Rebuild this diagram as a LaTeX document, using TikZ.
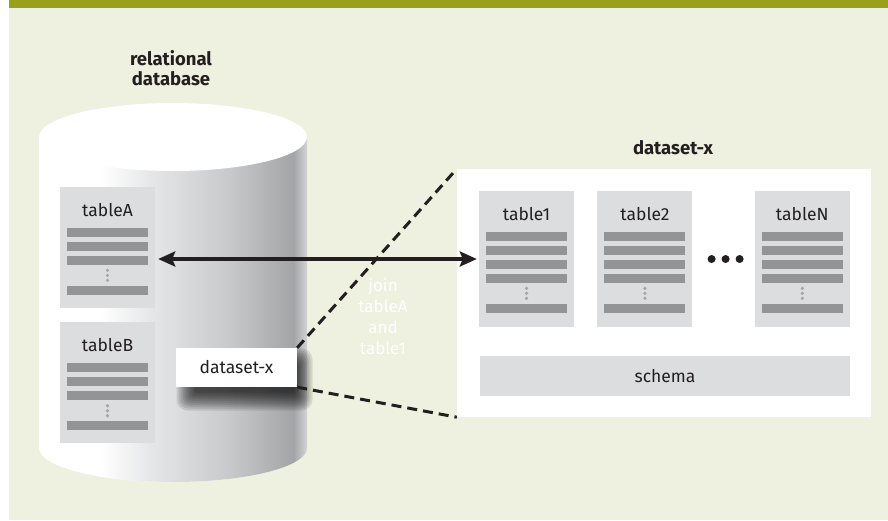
\documentclass[tikz,border=0pt]{standalone}
\usepackage{fontspec}
\setmainfont{Fira Sans}
\usetikzlibrary{
  arrows.meta,
  positioning,
  calc
}
\definecolor{barOlive}{RGB}{154,160,26}
\definecolor{paleBeige}{RGB}{238,240,224}
\definecolor{tblGray}{RGB}{220,221,223}
\definecolor{rowGray}{RGB}{147,148,150}
\definecolor{dotGray}{RGB}{165,166,168}
\definecolor{inkDark}{RGB}{35,31,32}
\definecolor{cylA}{RGB}{230,231,232}
\definecolor{cylB}{RGB}{200,201,203}
\definecolor{cylC}{RGB}{163,164,166}
\definecolor{cylD}{RGB}{214,215,217}
% title, rows, dots and last row of a table node
\newcommand{\tblBody}[3]{
  \node[tblTitle] (#1Name) at ([yshift=-23pt]#1.north) {#2};
  \foreach \r [evaluate=\r as \dy using 41+14*(\r-1)] in {1,...,#3}
    \fill[rowGray] ([xshift=-40.5pt, yshift=-\dy pt]#1.north) rectangle ++(81,9);
  \pgfmathsetmacro{\base}{41+14*#3}
  \foreach \d in {0.5,5.5,10.5}
    \fill[dotGray] ([yshift=-\base pt-\d pt]#1.north) circle[radius=1.8pt];
  \fill[rowGray] ([xshift=-40.5pt, yshift=-\base pt-16pt]#1.north) rectangle ++(81,9);
}
\tikzset{
  tbl/.style={fill=tblGray, minimum width=95pt, inner sep=0pt},
  tblTitle/.style={text=inkDark, font=\fontsize{17.5}{20}\selectfont},
  heading/.style={text=inkDark, align=center, font=\bfseries\fontsize{18.5}{20}\selectfont},
  cut/.style={draw=inkDark, line width=3pt, dash pattern=on 10pt off 6pt}
}

\begin{document}
\begin{tikzpicture}[
    x=1pt, y=-1pt,
    node distance=14pt
  ]
  \useasboundingbox (0,0) rectangle (888,520);
  \fill[white] (0,0) rectangle (888,520);
  \fill[paleBeige] (9,0) rectangle (888,520);
  \fill[barOlive] (9,0) rectangle (888,8);

  % relational database
  \begin{scope}
    \fill[white] (39,137) -- (39,448)
      arc[start angle=180, end angle=360, x radius=134pt, y radius=34pt]
      -- (307,137) -- cycle;
    \clip (39,137) -- (39,448)
      arc[start angle=180, end angle=360, x radius=134pt, y radius=34pt]
      -- (307,137) -- cycle;
    \shade[left color=white, right color=cylA] (100,100) rectangle (150,500);
    \shade[left color=cylA, right color=cylB] (149.5,100) rectangle (230,500);
    \shade[left color=cylB, right color=cylC] (229.5,100) rectangle (294,500);
    \shade[left color=cylC, right color=cylD] (293.5,100) rectangle (308,500);
  \end{scope}
  \fill[white] (173,137) ellipse[x radius=134pt, y radius=34pt];
  \node[heading] (dbLabel) at (171,68) {relational\\database};

  \node[tbl, minimum height=121pt] (tableA) at (107.5,247.5) {};
  \node[tbl, minimum height=121pt, below=of tableA] (tableB) {};
  \tblBody{tableA}{tableA}{3}
  \tblBody{tableB}{tableB}{3}

  % soft shadow under the dataset-x copy
  \foreach \k in {0,...,9}
    \fill[black, opacity=0.1, rounded corners=\k pt+2pt]
      ([xshift=-\k*2pt, yshift=\k*2pt]194.5,366.5)
      rectangle ([xshift=\k*2pt, yshift=-\k*2pt]294.5,392.5);
  \node[fill=white, minimum width=121pt, minimum height=39pt, inner sep=0pt, tblTitle]
    (dsx) at (236.5,367.5) {dataset-x};

  % dataset-x
  \node[fill=white, minimum width=414pt, minimum height=248pt, inner sep=0pt] (panel) at (664,293) {};
  \node[heading] (dsxLabel) at (673,148) {dataset-x};

  \node[tbl, minimum height=136pt] (table1) at (526.5,259) {};
  \node[tbl, minimum height=136pt, right=23pt of table1] (table2) {};
  \node[tbl, minimum height=136pt, right=62pt of table2] (tableN) {};
  \tblBody{table1}{table1}{4}
  \tblBody{table2}{table2}{4}
  \tblBody{tableN}{tableN}{4}

  \coordinate (gap) at ($(table2.east)!0.5!(tableN.west)$);
  \foreach \dx in {-12,2,16}
    \fill[inkDark] ([xshift=\dx pt]gap) circle[radius=4pt];

  \node[tbl, minimum width=370pt, minimum height=40pt, tblTitle] (schema) at (665,376) {schema};

  \draw[cut] (dsx.north east) -- (panel.north west);
  \draw[cut] (dsx.south east) -- (panel.south west);

  \draw[{Stealth[length=17pt, width=15pt, inset=3pt]}-{Stealth[length=17pt, width=15pt, inset=3pt]},
    line width=4pt, inkDark, shorten <=3pt, shorten >=2pt]
    (tableA.east |- table1.west) -- (table1.west);

  \node[text=white, align=center, font=\fontsize{17}{21}\selectfont] (joinNote) at (383,316)
    {join\\tableA\\and\\table1};
\end{tikzpicture}
\end{document}
